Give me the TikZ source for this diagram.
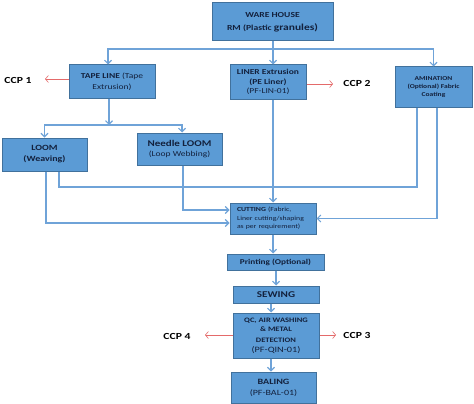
\documentclass[tikz,border=0pt]{standalone}
\usepackage{fontspec}
\setmainfont{Carlito}[FakeStretch=1.25]
\usetikzlibrary{arrows.meta}
\definecolor{boxfill}{HTML}{5B9BD5}
\definecolor{boxline}{HTML}{41719C}
\definecolor{conn}{HTML}{6FA3D8}
\definecolor{txt}{HTML}{13213D}
\definecolor{redc}{HTML}{E46A6A}
\newcommand{\fs}[2]{\fontsize{#1}{#2}\selectfont}
\tikzset{
  x=1pt, y=-1pt,
  pbox/.style={draw=boxline, line width=1pt, fill=boxfill, text=txt, align=center, inner sep=1pt},
  arr/.style={draw=conn, line width=1.1pt, -{Straight Barb[length=3.5pt,width=7pt]}},
  plain/.style={draw=conn, line width=1.1pt},
  redarr/.style={draw=redc, line width=0.6pt, -{Straight Barb[length=3pt,width=7pt]}},
  ccp/.style={font=\bfseries\fs{9.3}{11}, text=black, inner sep=0pt}
}
\begin{document}
\begin{tikzpicture}
\useasboundingbox (0,0) rectangle (474,404);
% boxes
\node[pbox, minimum width=121pt, minimum height=38pt, font=\bfseries\fs{7.7}{13.4}] (wh) at (272.5,22)
 {WARE HOUSE\\ RM (Plastic {\fs{9.2}{13.4}granules)}};
\node[pbox, minimum width=86pt, minimum height=33pt, font=\bfseries\fs{7.6}{11}] (tape) at (112,81.5)
 {TAPE LINE {\mdseries(Tape}\\ \mdseries Extrusion)};
\node[pbox, minimum width=76pt, minimum height=34pt, font=\bfseries\fs{7.6}{9.6}] (liner) at (268,82)
 {LINER Extrusion\\ (PE Liner)\\ \mdseries (PF-LIN-01)};
\node[pbox, minimum width=77pt, minimum height=40pt, font=\bfseries\fs{6}{8.2}] (amin) at (433.5,87)
 {AMINATION\\ (Optional) Fabric\\ Coating};
\node[pbox, minimum width=85pt, minimum height=33pt, font=\bfseries\fs{8}{11}] (loom) at (44.5,154.5)
 {LOOM\\ (Weaving)};
\node[pbox, minimum width=85pt, minimum height=32pt, font=\bfseries\fs{8.8}{9.5}] (needle) at (179.5,149)
 {Needle LOOM\\ \mdseries\fs{7.6}{9.5}(Loop Webbing)};
\node[pbox, minimum width=86pt, minimum height=31pt, align=left, text width=72pt, font=\bfseries\fs{6.2}{8.3}] (cut) at (273,218.5)
 {CUTTING {\mdseries(Fabric,}\\ \mdseries Liner cutting/shaping\\ \mdseries as per requirement)};
\node[pbox, minimum width=97pt, minimum height=16pt, font=\bfseries\fs{7.4}{9}] (print) at (275.5,262)
 {Printing (Optional)};
\node[pbox, minimum width=86pt, minimum height=17pt, font=\bfseries\fs{8.9}{10}] (sew) at (276,294.5)
 {SEWING};
\node[pbox, minimum width=86pt, minimum height=45pt, font=\bfseries\fs{6.8}{9.5}] (qc) at (276,335.5)
 {QC, AIR WASHING\\ \& METAL\\[1.5pt] DETECTION\\ \mdseries\fs{8.2}{10.5}(PF-QIN-01)};
\node[pbox, minimum width=85pt, minimum height=31pt, font=\bfseries\fs{8.1}{11}] (bal) at (273.5,387.5)
 {BALING\\ \mdseries\fs{8}{11}(PF-BAL-01)};
% CCP labels
\node[ccp] (c1) at (18,80) {CCP 1};
\node[ccp] (c2) at (357,83) {CCP 2};
\node[ccp] (c3) at (357,335) {CCP 3};
\node[ccp] (c4) at (177,336) {CCP 4};
% junction coordinates
\coordinate (j1) at (273,49);
\coordinate (j2) at (109,125);
\coordinate (tx) at (108,0);
\coordinate (nx0) at (182,0);
\coordinate (ax1) at (417,187);
\coordinate (lx1) at (59,187);
\coordinate (ax2) at (437,0);
\coordinate (lx2) at (46,223);
\coordinate (nx) at (183,210);
\coordinate (qx) at (271,0);
\coordinate (r1) at (45,79);
\coordinate (r2) at (333,84);
\coordinate (r3) at (336,335);
\coordinate (r4) at (205,335);
% connectors
\draw[plain] (wh.south -| j1) -- (j1);
\draw[arr] (j1) -| (tape.north -| tx);
\draw[arr] (j1) -- (liner.north -| j1);
\draw[arr] (j1) -| (amin.north);
\draw[arr] (tape.south -| j2) -- (j2);
\draw[arr] (j2) -| (loom.north);
\draw[arr] (j2) -| (needle.north -| nx0);
\draw[arr] (liner.south -| cut.north) -- (cut.north);
\draw[plain] (amin.south -| ax1) -- (ax1) -- (lx1) -- (loom.south -| lx1);
\draw[arr] (amin.south -| ax2) |- (cut.east);
\draw[arr] (loom.south -| lx2) -- (lx2) -- (cut.west |- lx2);
\draw[arr] (needle.south -| nx) -- (nx) -- (cut.west |- nx);
\draw[arr] (cut.south) -- (cut.south |- print.north);
\draw[arr] (print.south -| sew.north) -- (sew.north);
\draw[arr] (sew.south -| qx) -- (qc.north -| qx);
\draw[arr] (qc.south -| qx) -- (bal.north -| qx);
% red CCP arrows
\draw[redarr] (tape.west |- r1) -- (r1);
\draw[redarr] (liner.east |- r2) -- (r2);
\draw[redarr] (qc.east |- r3) -- (r3);
\draw[redarr] (qc.west |- r4) -- (r4);
\end{tikzpicture}
\end{document}
